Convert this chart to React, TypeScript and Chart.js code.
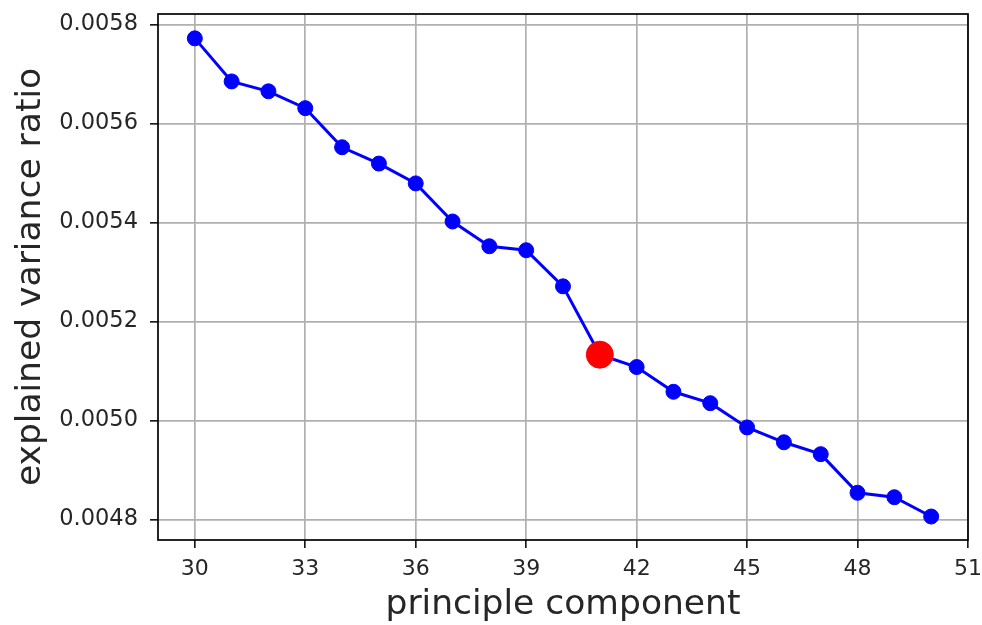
import React, { useEffect, useRef } from "react";
import { Chart, registerables } from "chart.js";

Chart.register(...registerables);

const components = [30, 31, 32, 33, 34, 35, 36, 37, 38, 39, 40, 41, 42, 43, 44, 45, 46, 47, 48, 49, 50];
const varianceRatios = [
  0.005772, 0.005685, 0.005665, 0.005631, 0.005552, 0.005519, 0.005479, 0.005402,
  0.005352, 0.005344, 0.005271, 0.005133, 0.005108, 0.005058, 0.005035, 0.004986,
  0.004956, 0.004932, 0.004854, 0.004845, 0.004806,
];
const highlightComponent = 41;
const xTicks = [30, 33, 36, 39, 42, 45, 48, 51];
const yTicks = [0.0048, 0.005, 0.0052, 0.0054, 0.0056, 0.0058];
const xTitle = "principle component";
const yTitle = "explained variance ratio";

const FONT = "'DejaVu Sans', sans-serif";
const TEXT = "#262626";

const framePlugin = {
  id: "frame",
  afterDraw(chart: any) {
    const { ctx, chartArea } = chart;
    ctx.save();
    ctx.strokeStyle = "#000";
    ctx.lineWidth = 1.7;
    ctx.strokeRect(chartArea.left, chartArea.top, chartArea.right - chartArea.left, chartArea.bottom - chartArea.top);
    ctx.restore();
  },
};

const zeroPad = (axis: any) => {
  axis.paddingTop = 0;
  axis.paddingBottom = 0;
  axis.paddingLeft = 0;
  axis.paddingRight = 0;
};

export default function App() {
  const ref = useRef<HTMLCanvasElement>(null);
  useEffect(() => {
    if (!ref.current) return;
    const mainData = components.map((c, i) => ({ x: c, y: varianceRatios[i] }));
    const hi = components.indexOf(highlightComponent);
    const hiData = [{ x: components[hi], y: varianceRatios[hi] }];
    const chart = new Chart(ref.current, {
      type: "line",
      data: {
        datasets: [
          {
            data: hiData,
            order: 0,
            showLine: false,
            pointRadius: 13.5,
            pointBorderWidth: 1,
            pointBackgroundColor: "#ff0000",
            pointBorderColor: "#ff0000",
            borderColor: "#ff0000",
            backgroundColor: "#ff0000",
          },
          {
            data: mainData,
            order: 1,
            borderColor: "#0000ff",
            backgroundColor: "#0000ff",
            borderWidth: 3,
            pointRadius: 7.5,
            pointBorderWidth: 1,
            pointBackgroundColor: "#0000ff",
            pointBorderColor: "#0000ff",
            tension: 0,
          },
        ],
      },
      options: {
        responsive: false,
        animation: false,
        devicePixelRatio: 1,
        layout: { padding: { top: 14, right: 14, left: 0, bottom: 0 }, autoPadding: false },
        plugins: { legend: { display: false }, tooltip: { enabled: false } },
        scales: {
          x: {
            type: "linear",
            min: 29,
            max: 51,
            afterBuildTicks: (axis: any) => {
              axis.ticks = xTicks.map((v) => ({ value: v }));
            },
            afterFit: (axis: any) => {
              axis.height = 85;
              zeroPad(axis);
            },
            ticks: {
              callback: (v: any) => String(v),
              font: { family: FONT, size: 22 },
              color: TEXT,
              padding: 8,
              maxRotation: 0,
              autoSkip: false,
            },
            grid: {
              color: "#b0b0b0",
              lineWidth: 1.7,
              drawTicks: true,
              tickLength: 8,
              tickColor: "#000",
              tickWidth: 1.5,
            },
            border: { display: false },
            title: {
              display: true,
              text: xTitle,
              font: { family: FONT, size: 34.5 },
              color: TEXT,
              padding: { top: 0, bottom: -1 },
            },
          },
          y: {
            type: "linear",
            min: 0.0047586,
            max: 0.0058212,
            afterBuildTicks: (axis: any) => {
              axis.ticks = yTicks.map((v) => ({ value: v }));
            },
            afterFit: (axis: any) => {
              axis.width = 158;
              zeroPad(axis);
            },
            ticks: {
              callback: (v: any) => Number(v).toFixed(4),
              font: { family: FONT, size: 22.5 },
              color: TEXT,
              padding: 12,
              autoSkip: false,
            },
            grid: {
              color: "#b0b0b0",
              lineWidth: 1.7,
              drawTicks: true,
              tickLength: 8,
              tickColor: "#000",
              tickWidth: 1.5,
            },
            border: { display: false },
            title: {
              display: true,
              text: yTitle,
              font: { family: FONT, size: 34.5 },
              color: TEXT,
              padding: { top: 10, bottom: 0 },
            },
          },
        },
      },
      plugins: [framePlugin],
    });
    return () => chart.destroy();
  }, []);
  return (
    <div style={{ position: "fixed", left: 0, top: 0, width: 982, height: 625, background: "#fff" }}>
      <canvas ref={ref} width={982} height={625} style={{ width: 982, height: 625, display: "block" }} />
    </div>
  );
}
